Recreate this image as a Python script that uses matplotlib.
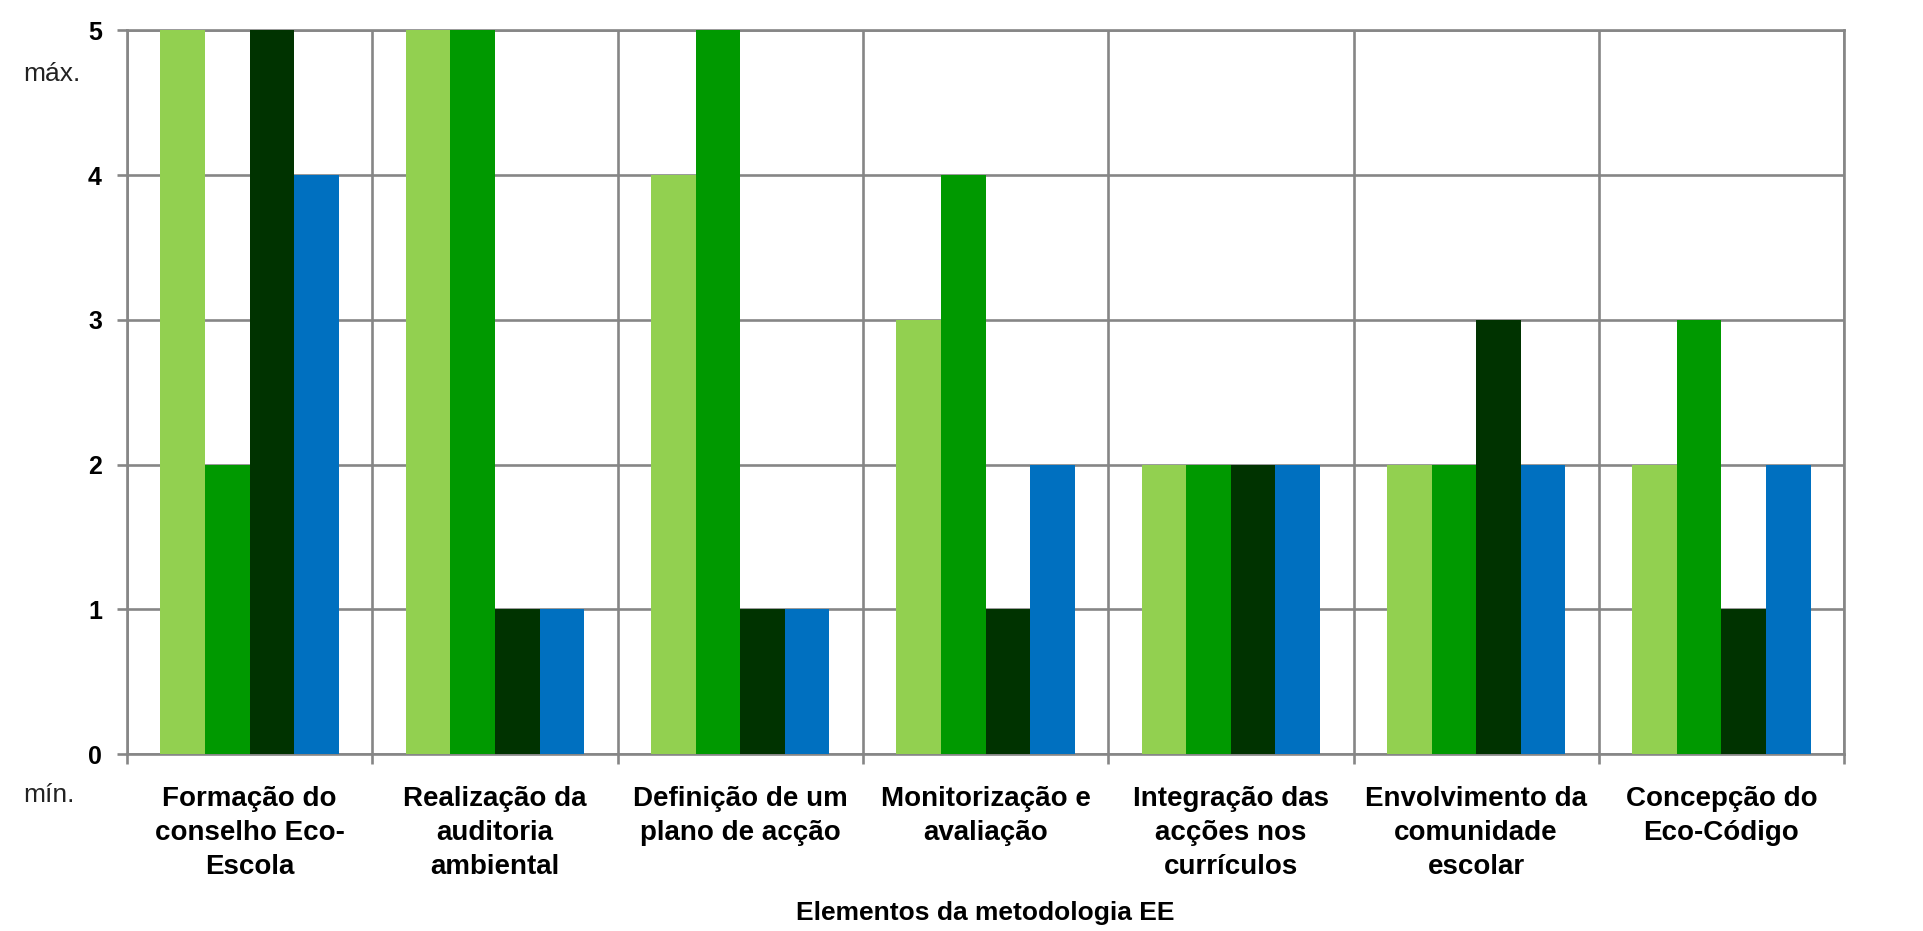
import matplotlib.pyplot as plt
import numpy as np

categories = [
    "Formação do\nconselho Eco-\nEscola",
    "Realização da\nauditoria\nambiental",
    "Definição de um\nplano de acção",
    "Monitorização e\navaliação",
    "Integração das\nacções nos\ncurrículos",
    "Envolvimento da\ncomunidade\nescolar",
    "Concepção do\nEco-Código",
]
serie_1 = [5, 5, 4, 3, 2, 2, 2]
serie_2 = [2, 5, 5, 4, 2, 2, 3]
serie_3 = [5, 1, 1, 1, 2, 3, 1]
serie_4 = [4, 1, 1, 2, 2, 2, 2]
yticks = [0, 1, 2, 3, 4, 5]

colors = ["#92D050", "#009900", "#003300", "#0070C0"]
grid_col = "#868686"

plt.rcParams["font.family"] = ["Liberation Sans", "DejaVu Sans"]

fig = plt.figure(figsize=(19.23, 9.31), dpi=100)
ax = fig.add_axes([0.066, 0.19, 0.893, 0.7775])

n = len(categories)
x = np.arange(n)
w = 1 / 5.5
for i, vals in enumerate([serie_1, serie_2, serie_3, serie_4]):
    ax.bar(x + 0.5 + (i - 1.5) * w, vals, width=w, color=colors[i], zorder=3)

ax.set_xlim(0, n)
ax.set_ylim(0, 5)

# boundaries -> gridlines and tick marks, centres -> labels
ax.set_xticks(np.arange(n + 1))
ax.set_xticklabels([])
ax.set_xticks(x + 0.5, minor=True)
ax.set_xticklabels(categories, minor=True, fontsize=20, fontweight="bold",
                   linespacing=1.4)
ax.tick_params(axis="x", which="minor", length=0, pad=23)
ax.tick_params(axis="x", which="major", length=7, width=1.9, color=grid_col,
               direction="out")

ax.set_yticks(yticks)
ax.set_yticklabels([str(v) for v in yticks], fontsize=18, fontweight="bold")
ax.tick_params(axis="y", length=7, width=1.9, color=grid_col, pad=11)

ax.grid(True, which="major", color=grid_col, linewidth=1.9, zorder=0)
ax.set_axisbelow(True)
for s in ax.spines.values():
    s.set_color(grid_col)
    s.set_linewidth(1.9)

ax.set_xlabel("Elementos da metodologia EE", fontsize=19, fontweight="bold")
ax.xaxis.set_label_coords(0.5, -0.203)

fig.text(23 / 1923, 1 - 74 / 931, "máx.", fontsize=19, color="#222222",
         ha="left", va="center")
fig.text(23 / 1923, 1 - 795 / 931, "mín.", fontsize=19, color="#222222",
         ha="left", va="center")

fig.savefig("out.png", dpi=100, facecolor="white")
